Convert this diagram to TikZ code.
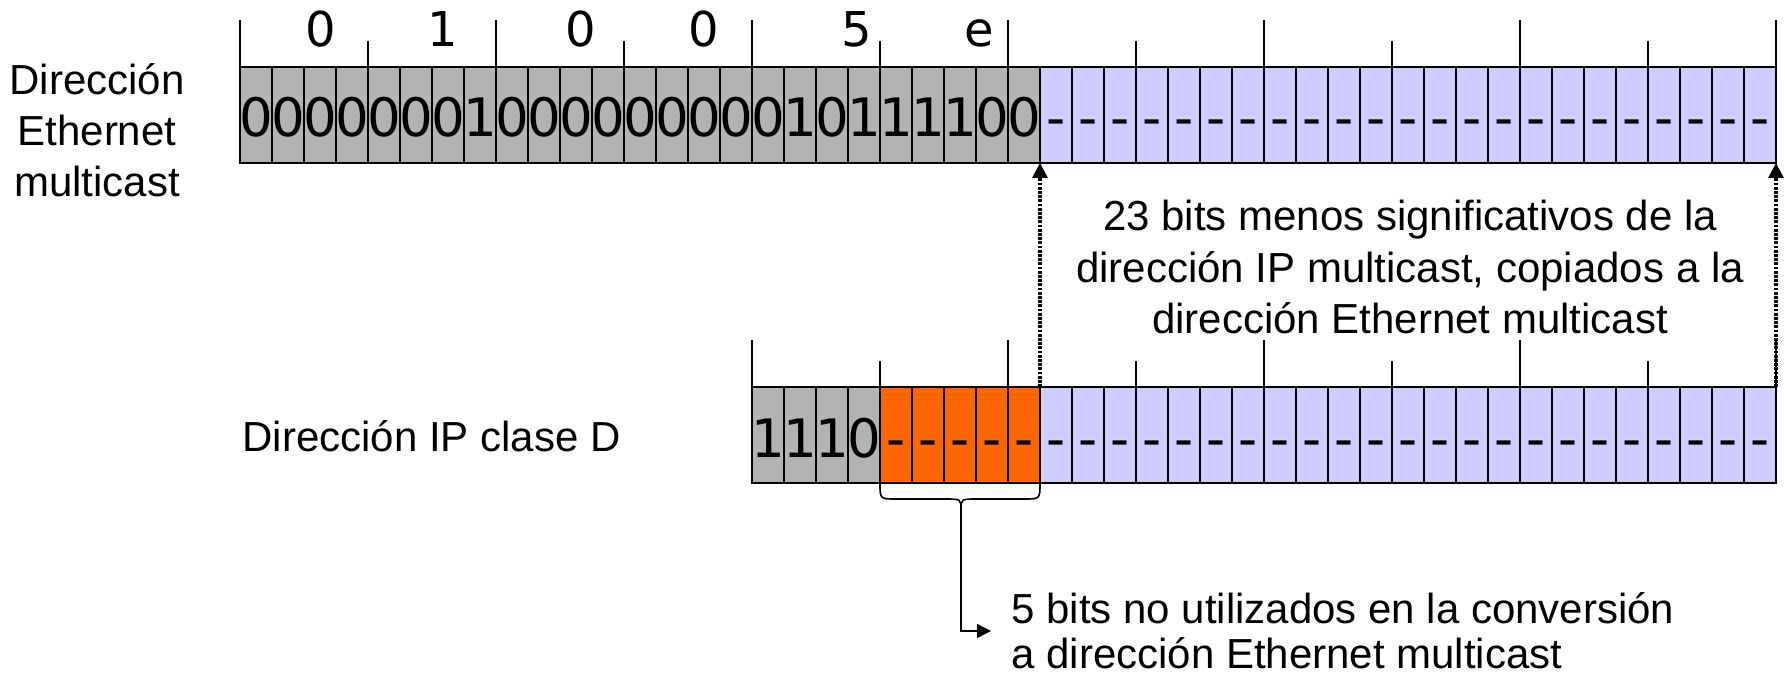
\documentclass[tikz,border=0pt]{standalone}
\usepackage{fontspec}
\setmainfont{Liberation Sans}
\newfontfamily\dejavu{DejaVu Sans}
\usetikzlibrary{arrows.meta}
\definecolor{cgray}{RGB}{179,179,179}
\definecolor{cblue}{RGB}{204,204,255}
\definecolor{corange}{RGB}{255,102,0}
\begin{document}
\begin{tikzpicture}[x=0.5pt,y=-0.5pt,
  cell/.style={draw=black, line width=1pt, minimum width=16pt, minimum height=48pt,
    inner sep=0pt, outer sep=0pt, text height=22pt, text depth=0pt,
    font=\dejavu\fontsize{26.5}{30}\selectfont},
  gcell/.style={cell, fill=cgray},
  bcell/.style={cell, fill=cblue},
  ocell/.style={cell, fill=corange},
  hexlbl/.style={font=\dejavu\fontsize{24}{28}\selectfont, anchor=base, inner sep=0pt},
  lbl/.style={font=\fontsize{21}{25}\selectfont, anchor=base, inner sep=0pt},
  tick/.style={line width=1pt, black},
  dotarrow/.style={line width=1.6pt, dash pattern=on 1.4pt off 0.7pt, -{Triangle[length=7.5pt,width=7.5pt]}},
  conn/.style={line width=0.7pt, -{Triangle[length=7pt,width=7pt]}},
  bracestyle/.style={line width=0.8pt}
]
\useasboundingbox (0,0) rectangle (1785,674);

% ---- Ethernet multicast address (top row) ----
\foreach \b [count=\k from 0] in {0,0,0,0,0,0,0,1,0,0,0,0,0,0,0,0,0,1,0,1,1,1,1,0,0}
  \node[gcell] (e\k) at (256+32*\k,115) {\makebox[0pt]{\b}};
\foreach \k in {25,...,47}
  \node[bcell] (e\k) at (256+32*\k,115) {\makebox[0pt]{-}};

% ticks top row
\foreach \j in {0,2,...,12}
  \draw[tick] (240+128*\j,20) -- (240+128*\j,67);
\foreach \j in {1,3,...,11}
  \draw[tick] (240+128*\j,41) -- (240+128*\j,67);

% hex digits
\foreach \h/\x [count=\i] in {0/321,1/443,0/581,0/704,5/857,e/979}
  \node[hexlbl] (h\i) at (\x,47) {\h};

% ---- IP class D address (bottom row) ----
\foreach \b [count=\k from 0] in {1,1,1,0}
  \node[gcell] (i\k) at (768+32*\k,435) {\makebox[0pt]{\b}};
\foreach \k in {4,...,8}
  \node[ocell] (i\k) at (768+32*\k,435) {\makebox[0pt]{-}};
\foreach \k in {9,...,31}
  \node[bcell] (i\k) at (768+32*\k,435) {\makebox[0pt]{-}};

% ticks bottom row
\foreach \j in {0,2,...,8}
  \draw[tick] (752+128*\j,340) -- (752+128*\j,387);
\foreach \j in {1,3,...,7}
  \draw[tick] (752+128*\j,361) -- (752+128*\j,387);

% ---- labels ----
\node[lbl] (l1a) at (97,95) {Dirección};
\node[lbl] (l1b) at (97,146) {Ethernet};
\node[lbl] (l1c) at (97,197) {multicast};
\node[lbl, anchor=base west] (l2) at (242,451) {Dirección IP clase D};

\node[lbl] (t1) at (1410,230) {23 bits menos significativos de la};
\node[lbl] (t2) at (1410,282) {dirección IP multicast, copiados a la};
\node[lbl] (t3) at (1410,333) {dirección Ethernet multicast};

\node[lbl, anchor=base west] (n1) at (1011,623) {5 bits no utilizados en la conversión};
\node[lbl, anchor=base west] (n2) at (1011,668) {a dirección Ethernet multicast};

% ---- dotted copy arrows ----
\draw[dotarrow] (i9.north west) -- (e25.south west);
\draw[dotarrow] (i31.north east) -- (e47.south east);

% ---- brace under the unused bits ----
\coordinate (btip) at (961,510);
\draw[bracestyle] (i4.south west) .. controls (880,499) .. (896,499) -- (945,499)
  .. controls (961,499) .. (btip) .. controls (961,499) .. (977,499) -- (1024,499)
  .. controls (1040,499) .. (i8.south east);
\coordinate (aend) at (991,631);
\draw[conn] (btip) |- (aend);
\end{tikzpicture}
\end{document}
